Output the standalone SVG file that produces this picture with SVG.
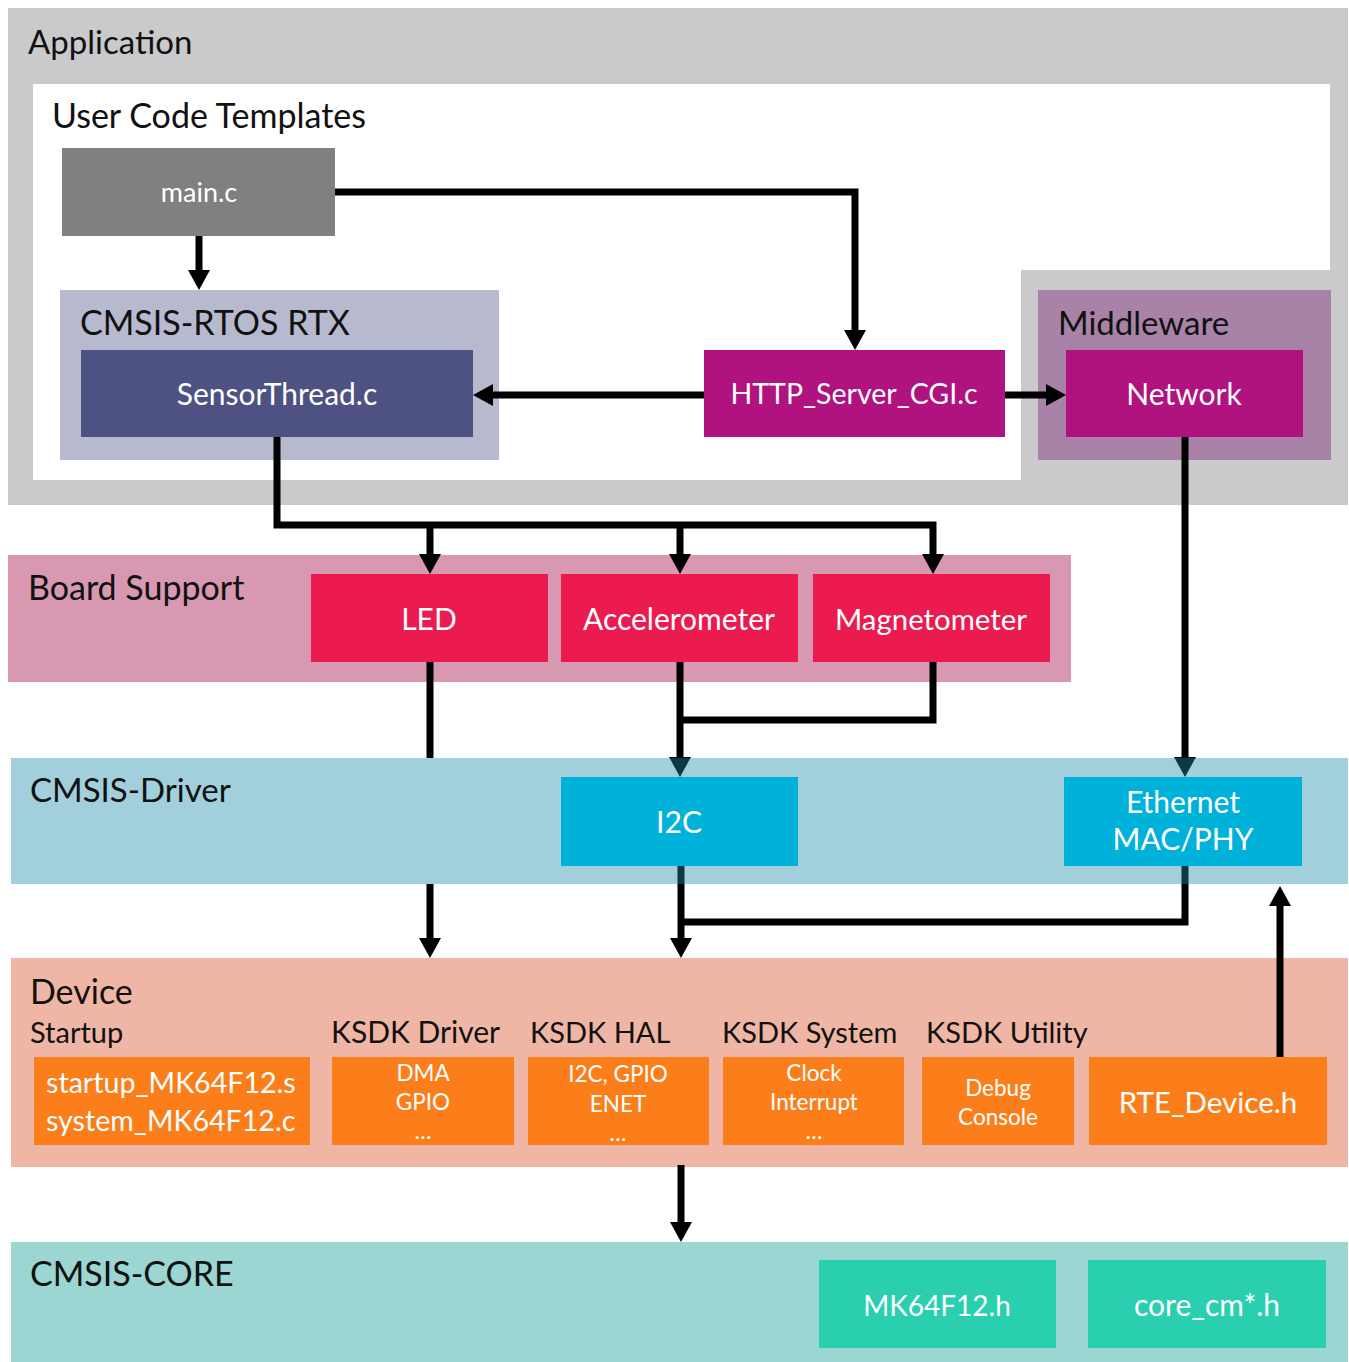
<svg xmlns="http://www.w3.org/2000/svg" width="1349" height="1362" viewBox="0 0 1349 1362">
<defs>
<marker id="ah" viewBox="0 0 20 22" refX="0" refY="11" markerWidth="20" markerHeight="22" markerUnits="userSpaceOnUse" orient="auto"><path d="M0,0 L20,11 L0,22 z" fill="#000"/></marker>
<style>
text{font-family:Lato,"Open Sans","Liberation Sans",sans-serif}
.t{font-size:34px;fill:#111}
.h{font-size:29px;fill:#111}
.w{fill:#fff;text-anchor:middle}
.c{fill:none;stroke:#000;stroke-width:7}
.m{font-size:30px}
.s{font-size:22.5px}
</style>
</defs>
<rect width="1349" height="1362" fill="#fff"/>
<g id="application">
<rect x="8" y="8" width="1340" height="497" fill="#cacacc"/>
<path d="M33,84 H1330 V270 H1021 V480 H33 z" fill="#fff"/>
<text class="t" x="28" y="54" style="font-size:33px">Application</text>
<text class="t" x="52" y="128">User Code Templates</text>
</g>
<g id="rtos"><rect x="60" y="290" width="439" height="170" fill="#b7bacf"/><text class="t" x="80" y="335">CMSIS-RTOS RTX</text></g>
<g id="middleware"><rect x="1038" y="290" width="293" height="170" fill="#a883a7"/><text class="t" x="1058" y="335" style="font-size:33px">Middleware</text></g>
<g id="board-support"><rect x="8" y="555" width="1063" height="127" fill="#d898b2"/><text class="t" x="28" y="600">Board Support</text></g>
<g id="device"><rect x="11" y="958" width="1337" height="209" fill="#f0b6a5"/><text class="t" x="30" y="1004">Device</text>
<text class="h" x="30" y="1043">Startup</text><text class="h" x="331" y="1043" style="font-size:30px">KSDK Driver</text><text class="h" x="530" y="1043">KSDK HAL</text><text class="h" x="722" y="1043">KSDK System</text><text class="h" x="926" y="1043">KSDK Utility</text></g>
<g id="cmsis-core"><rect x="11" y="1242" width="1337" height="120" fill="#9bd6d2"/><text class="t" x="30" y="1286">CMSIS-CORE</text></g>
<g id="connectors">
<path class="c" d="M335,192 H855 V330" marker-end="url(#ah)"/>
<path class="c" d="M199,236 V270" marker-end="url(#ah)"/>
<path class="c" d="M704,395 H493" marker-end="url(#ah)"/>
<path class="c" d="M1005,395 H1046" marker-end="url(#ah)"/>
<path class="c" d="M277,437 V525 H933 V554" marker-end="url(#ah)"/>
<path class="c" d="M430,525 V554" marker-end="url(#ah)"/>
<path class="c" d="M680,525 V554" marker-end="url(#ah)"/>
<path class="c" d="M430,662 V758"/>
<path class="c" d="M430,884 V938" marker-end="url(#ah)"/>
<path class="c" d="M933,662 V720 H680"/>
<path class="c" d="M680,662 V757" marker-end="url(#ah)"/>
<path class="c" d="M1185,437 V757" marker-end="url(#ah)"/>
<path class="c" d="M1185,866 V922 H681"/>
<path class="c" d="M681,866 V938" marker-end="url(#ah)"/>
<path class="c" d="M1280,1057 V906" marker-end="url(#ah)"/>
<path class="c" d="M681,1165 V1222" marker-end="url(#ah)"/>
</g>
<g id="cmsis-driver"><rect x="11" y="758" width="1337" height="126" fill="#1b8dab" fill-opacity="0.41"/><text class="t" x="30" y="802" style="font-size:33px">CMSIS-Driver</text></g>
<g id="main-c"><rect x="62" y="148" width="273" height="88" fill="#808080"/><text class="w" x="199" y="202" font-size="27">main.c</text></g>
<g id="sensorthread"><rect x="81" y="350" width="392" height="87" fill="#4e5282"/><text class="w m" x="277" y="405">SensorThread.c</text></g>
<g id="http-server"><rect x="704" y="350" width="301" height="87" fill="#b0137f"/><text class="w" x="854" y="404" font-size="28.5">HTTP_Server_CGI.c</text></g>
<g id="network"><rect x="1066" y="350" width="237" height="87" fill="#b0137f"/><text class="w m" x="1184" y="405">Network</text></g>
<g id="led"><rect x="311" y="574" width="237" height="88" fill="#eb1a4f"/><text class="w m" x="429" y="630">LED</text></g>
<g id="accelerometer"><rect x="561" y="574" width="237" height="88" fill="#eb1a4f"/><text class="w m" x="679" y="630">Accelerometer</text></g>
<g id="magnetometer"><rect x="813" y="574" width="237" height="88" fill="#eb1a4f"/><text class="w" x="931" y="630" font-size="29.4">Magnetometer</text></g>
<g id="i2c"><rect x="561" y="777" width="237" height="89" fill="#00b1da"/><text class="w m" x="679" y="833">I2C</text></g>
<g id="ethernet"><rect x="1064" y="777" width="238" height="89" fill="#00b1da"/><text class="w m" x="1183" y="813">Ethernet</text><text class="w m" x="1183" y="850">MAC/PHY</text></g>
<g id="startup"><rect x="34" y="1057" width="276" height="88" fill="#fc7e1b"/><text x="46" y="1093" fill="#fff" font-size="28.6">startup_MK64F12.s</text><text x="46" y="1131" fill="#fff" font-size="28.6">system_MK64F12.c</text></g>
<g id="ksdk-driver"><rect x="332" y="1057" width="182" height="88" fill="#fc7e1b"/><text class="w s" x="423" y="1081">DMA</text><text class="w s" x="423" y="1110">GPIO</text><text class="w s" x="423" y="1139">…</text></g>
<g id="ksdk-hal"><rect x="528" y="1057" width="181" height="88" fill="#fc7e1b"/><text class="w s" x="618" y="1082">I2C, GPIO</text><text class="w s" x="618" y="1112">ENET</text><text class="w s" x="618" y="1141">…</text></g>
<g id="ksdk-system"><rect x="723" y="1057" width="181" height="88" fill="#fc7e1b"/><text class="w s" x="814" y="1081">Clock</text><text class="w s" x="814" y="1110">Interrupt</text><text class="w s" x="814" y="1139">…</text></g>
<g id="ksdk-utility"><rect x="922" y="1057" width="152" height="88" fill="#fc7e1b"/><text class="w s" x="998" y="1096">Debug</text><text class="w s" x="998" y="1125">Console</text></g>
<g id="rte-device"><rect x="1089" y="1057" width="238" height="88" fill="#fc7e1b"/><text class="w" x="1208" y="1113" font-size="29.5">RTE_Device.h</text></g>
<g id="mk64f12"><rect x="819" y="1260" width="237" height="88" fill="#2acfb0"/><text class="w" x="937" y="1316" font-size="28">MK64F12.h</text></g>
<g id="core-cm"><rect x="1088" y="1260" width="238" height="88" fill="#2acfb0"/><text class="w m" x="1207" y="1316">core_cm*.h</text></g>
</svg>
